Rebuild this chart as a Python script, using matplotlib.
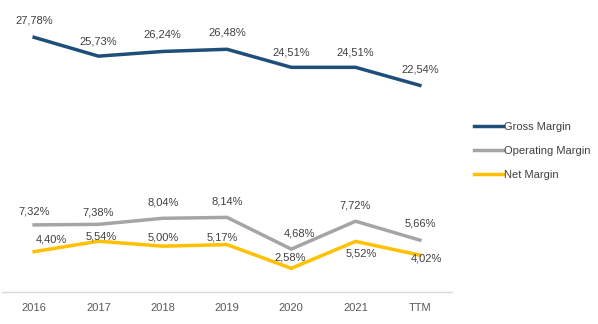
import matplotlib
matplotlib.use("Agg")
import matplotlib.pyplot as plt

categories = ["2016", "2017", "2018", "2019", "2020", "2021", "TTM"]
gross_margin = [27.78, 25.73, 26.24, 26.48, 24.51, 24.51, 22.54]
operating_margin = [7.32, 7.38, 8.04, 8.14, 4.68, 7.72, 5.66]
net_margin = [4.40, 5.54, 5.00, 5.17, 2.58, 5.52, 4.02]

plt.rcParams['font.family'] = ['Liberation Sans', 'DejaVu Sans']

W, H = 598, 324
fig = plt.figure(figsize=(W / 100, H / 100), dpi=100)
ax = fig.add_axes([2 / W, (H - 292) / H, 450 / W, 275 / H])

x = list(range(len(categories)))
series = [
    ("Gross Margin", gross_margin, "#1F4E79",
     [(0, 17), (0, 15), (0, 17), (0, 17), (0, 15), (0, 15), (0, 16)]),
    ("Operating Margin", operating_margin, "#A5A5A5",
     [(0, 13), (0, 12), (0, 16), (0, 16), (8, 16), (0, 16), (0, 17)]),
    ("Net Margin", net_margin, "#FFC000",
     [(17, 12), (3, 5), (1, 9), (-5, 7), (-1, 11), (6, -12), (7, -3)]),
]
lines = []
for name, vals, color, offs in series:
    ln, = ax.plot(x, vals, color=color, lw=2.5, label=name, solid_joinstyle='miter')
    lines.append(ln)
    for xi, v, (dx, dy) in zip(x, vals, offs):
        ax.annotate(f"{v:.2f}%".replace(".", ","), (xi, v), xytext=(dx, dy),
                    textcoords='offset pixels', ha='center', va='center',
                    fontsize=8, color="#404040")

ax.set_xlim(-0.5, len(categories) - 0.5)
ax.set_ylim(0, 30)
ax.set_xticks(x)
ax.set_xticklabels(categories, fontsize=8, color="#595959")
ax.tick_params(axis='x', length=0, pad=8)
ax.set_yticks([])
for s in ["top", "right", "left"]:
    ax.spines[s].set_visible(False)
ax.spines["bottom"].set_color("#D9D9D9")
ax.spines["bottom"].set_linewidth(1)
ax.patch.set_alpha(0)

fig.legend(handles=lines, loc='upper left', bbox_to_anchor=(464 / W, 1 - 112 / H),
           frameon=False, fontsize=8, handlelength=2.6, handletextpad=0.1,
           labelspacing=1.25, labelcolor="#404040")

fig.savefig("out.png", dpi=100)
